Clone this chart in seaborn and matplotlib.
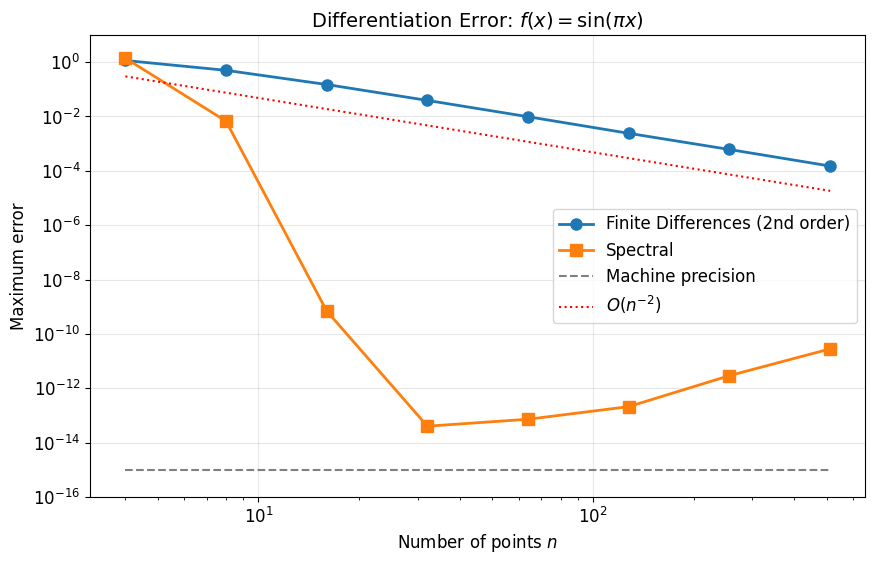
import matplotlib
matplotlib.use("Agg")
import matplotlib.pyplot as plt
import seaborn as sns
import pandas as pd

# ============ Data ============
n_points = [4, 8, 16, 32, 64, 128, 256, 512]
fd_error = [1.15, 0.50, 0.15, 0.039, 0.0098, 0.0024, 0.00061, 0.00015]
spectral_error = [1.4, 6.7e-3, 6.9e-10, 4.0e-14, 7.2e-14, 2.1e-13, 2.9e-12, 2.8e-11]
machine_eps = [1e-15] * 8
ref_n2 = [0.3, 0.075, 0.01875, 0.0046875, 0.00117, 0.000293, 7.32e-05, 1.83e-05]

df = pd.DataFrame({
    "n": n_points,
    "fd": fd_error,
    "spectral": spectral_error,
    "eps": machine_eps,
    "ref": ref_n2,
})

# ============ Style ============
plt.rcdefaults()
plt.rcParams["font.family"] = ["DejaVu Sans"]
plt.rcParams["font.size"] = 12

fig, ax = plt.subplots(figsize=(8.75, 5.64), dpi=100)
fig.subplots_adjust(left=0.103, right=0.989, top=0.938, bottom=0.119)

sns.lineplot(data=df, x="n", y="fd", ax=ax, color="#1f77b4", marker="o",
             markersize=8, linewidth=2, markeredgecolor="#1f77b4",
             markeredgewidth=1, label="Finite Differences (2nd order)")
sns.lineplot(data=df, x="n", y="spectral", ax=ax, color="#ff7f0e", marker="s",
             markersize=8, linewidth=2, markeredgecolor="#ff7f0e",
             markeredgewidth=1, label="Spectral")
sns.lineplot(data=df, x="n", y="eps", ax=ax, color="gray", linestyle="--",
             linewidth=1.5, label="Machine precision")
sns.lineplot(data=df, x="n", y="ref", ax=ax, color="red", linestyle=":",
             linewidth=1.5, label=r"$O(n^{-2})$")

ax.set_xscale("log")
ax.set_yscale("log")
ax.set_ylim(1e-16, 1e1)
ax.set_xlabel(r"Number of points $n$", fontsize=12)
ax.set_ylabel("Maximum error", fontsize=12)
ax.set_title(r"Differentiation Error: $f(x) = \sin(\pi x)$", fontsize=14)
ax.tick_params(labelsize=12)
ax.grid(True, alpha=0.3)
ax.legend(loc="center right", fontsize=12)

plt.savefig("out.png", dpi=100)
